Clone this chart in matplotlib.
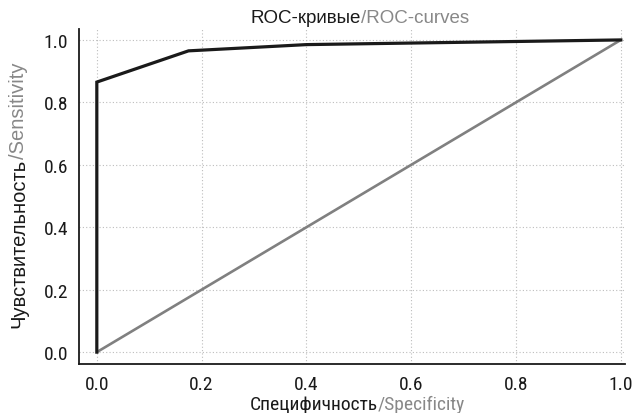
import matplotlib
matplotlib.use("Agg")
import matplotlib.pyplot as plt
from matplotlib import font_manager

# данные ROC
fpr = [0.0, 0.0, 0.175, 0.4, 1.0]
tpr = [0.0, 0.865, 0.965, 0.985, 1.0]
diag_x = [0.0, 1.0]
diag_y = [0.0, 1.0]
ticks = [0.0, 0.2, 0.4, 0.6, 0.8, 1.0]
tick_labels = ["0.0", "0.2", "0.4", "0.6", "0.8", "1.0"]

names = {f.name for f in font_manager.fontManager.ttflist}
narrow = [n for n in ["Roboto Condensed", "Liberation Sans Narrow"] if n in names]
plt.rcParams['font.family'] = narrow + ['DejaVu Sans']
plt.rcParams['font.stretch'] = 'condensed'
wide = ['Liberation Sans', 'DejaVu Sans']

fig = plt.figure(figsize=(6.33, 4.14), dpi=100)
ax = fig.add_axes([79 / 633, 1 - 365 / 414, 546 / 633, 335 / 414])

ax.plot(diag_x, diag_y, color='#808080', lw=1.9, solid_capstyle='butt')
ax.plot(fpr, tpr, color='#1a1a1a', lw=2.3, solid_joinstyle='miter')

ax.set_xlim(-0.034, 1.008)
ax.set_ylim(-0.038, 1.035)
ax.set_xticks(ticks)
ax.set_xticklabels(tick_labels)
ax.set_yticks(ticks)
ax.set_yticklabels(tick_labels)
ax.tick_params(length=0, labelsize=14, pad=8, colors='#1a1a1a')
ax.grid(True, linestyle=(0, (1, 2)), color='#bdbdbd', lw=0.8)
for s in ['top', 'right']:
    ax.spines[s].set_visible(False)
for s in ['left', 'bottom']:
    ax.spines[s].set_linewidth(1.3)
    ax.spines[s].set_color('#1a1a1a')


def two_tone(x, y, first, second, rotation=0, size=12.5, family=None):
    # первая часть чёрным, вторая серым, стык по центру
    kw = dict(fontsize=size, rotation=rotation)
    if family:
        kw.update(family=family, stretch='normal')
    r = fig.canvas.get_renderer()
    t1 = fig.text(0, 0, first, color='#1a1a1a', **kw)
    t2 = fig.text(0, 0, second, color='#888888', **kw)
    b1 = t1.get_window_extent(r)
    b2 = t2.get_window_extent(r)
    W, H = fig.bbox.width, fig.bbox.height
    if rotation == 0:
        total = b1.width + b2.width
        x0 = x - total / 2
        t1.set_position((x0 / W, y / H))
        t2.set_position(((x0 + b1.width) / W, y / H))
        t1.set_va('baseline'); t2.set_va('baseline')
    else:
        total = b1.height + b2.height
        y0 = y - total / 2
        t1.set_position((x / W, y0 / H))
        t2.set_position((x / W, (y0 + b1.height) / H))
        t1.set_ha('left'); t2.set_ha('left')
        t1.set_va('bottom'); t2.set_va('bottom')


two_tone(360, 414 - 23, "ROC-кривые", "/ROC-curves", size=13.5, family=wide)
two_tone(357, 414 - 410, "Специфичность", "/Specificity", size=14)
two_tone(9, 414 - 195, "Чувствительность", "/Sensitivity", rotation=90, size=14.5, family=wide)

fig.savefig("out.png", dpi=100)
